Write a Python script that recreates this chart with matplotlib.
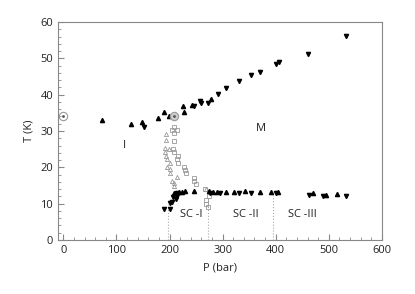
import matplotlib.pyplot as plt
from matplotlib.ticker import MultipleLocator

plt.rcParams['font.family'] = ['Open Sans', 'DejaVu Sans']

# upper (M) boundary, filled triangles
up_hi_P = [72, 128, 148, 178, 189, 199, 226, 227, 242, 279]
up_hi_T = [32.9, 31.9, 32.6, 33.7, 35.2, 34.2, 36.8, 35.3, 37.2, 38.9]
dn_hi_P = [151, 247, 258, 260, 273, 292, 307, 331, 353, 371, 401, 407, 461, 533]
dn_hi_T = [31.2, 36.9, 38.2, 37.6, 37.8, 40.1, 41.7, 43.8, 45.3, 46.3, 48.4, 49.0, 51.2, 56.1]

# superconducting boundary, filled triangles
up_lo_P = [209, 213, 217, 223, 229, 247, 275, 282, 290, 307, 321, 342, 370, 392, 405, 471, 494, 516]
up_lo_T = [13.0, 13.0, 13.2, 13.2, 13.5, 13.5, 13.4, 13.2, 13.3, 13.3, 13.3, 13.4, 13.1, 13.2, 13.2, 12.8, 12.4, 12.6]
dn_lo_P = [189, 201, 201, 205, 206, 212, 214, 214, 277, 295, 331, 353, 400, 462, 490, 533]
dn_lo_T = [8.6, 8.6, 10.2, 10.5, 11.9, 11.2, 12.1, 13.0, 12.9, 13.0, 12.9, 12.9, 12.8, 12.3, 12.2, 12.1]

# open markers
tri_P = [194, 194, 191, 191, 199, 194, 196, 200, 196, 201, 201, 214, 205, 208, 209, 268]
tri_T = [29.3, 27.5, 25.3, 24.3, 24.9, 23.2, 22.2, 21.3, 20.2, 19.4, 18.5, 17.4, 16.3, 15.6, 14.8, 14.0]
sq_P = [209, 205, 214, 209, 209, 207, 208, 216, 215, 216, 227, 229, 231, 246, 247, 249, 267, 275, 268, 268, 273]
sq_T = [31.2, 30.2, 30.2, 29.5, 27.2, 25.1, 24.3, 23.1, 22.2, 21.3, 20.2, 19.2, 18.3, 17.1, 16.2, 15.3, 13.9, 12.1, 10.9, 10.0, 9.0]

circ_P = [0, 209]
circ_T = [34.1, 34.1]
circ_fill = ['none', '#cccccc']

# phase boundaries (dotted) and labels
vline_P = [197, 273, 395]
vline_top = [10, 12, 12.5]
labels = ["I", "M", "SC -I", "SC -II", "SC -III"]
label_P = [115, 372, 240, 343, 450]
label_T = [26, 30.7, 7, 7, 7]

grey = '#999999'

fig = plt.figure(figsize=(4.15, 2.94), dpi=100)
ax = fig.add_axes([0.14, 0.184, 0.78, 0.741])

for p, top in zip(vline_P, vline_top):
    ax.plot([p, p], [0, top], ls=':', color='#aaaaaa', lw=0.8)

ax.plot(tri_P, tri_T, '^', ms=3, mfc='none', mec=grey, mew=0.6, ls='none')
ax.plot(sq_P, sq_T, 's', ms=3.2, mfc='none', mec=grey, mew=0.6, ls='none')
ax.plot(up_hi_P + up_lo_P, up_hi_T + up_lo_T, '^', ms=3, color='black', ls='none')
ax.plot(dn_hi_P + dn_lo_P, dn_hi_T + dn_lo_T, 'v', ms=3, color='black', ls='none')
for p, t, f in zip(circ_P, circ_T, circ_fill):
    ax.plot(p, t, 'o', ms=6, mfc=f, mec=grey, mew=0.8, ls='none')
ax.plot(circ_P, circ_T, '.', ms=2, color='#555555', ls='none')

for s, p, t in zip(labels, label_P, label_T):
    ax.text(p, t, s, ha='center', va='center', fontsize=8, color='#222222')

ax.set_xlim(-10, 600)
ax.set_ylim(0, 60)
ax.xaxis.set_major_locator(MultipleLocator(100))
ax.xaxis.set_minor_locator(MultipleLocator(20))
ax.yaxis.set_major_locator(MultipleLocator(10))
ax.yaxis.set_minor_locator(MultipleLocator(2))
ax.tick_params(which='both', direction='in', color='#888888', labelsize=8, labelcolor='#222222')
ax.tick_params(which='major', length=4)
ax.tick_params(which='minor', length=2)
for sp in ax.spines.values():
    sp.set_color('#888888')
ax.set_xlabel('P (bar)', fontsize=8, color='#222222', labelpad=5)
ax.set_ylabel('T (K)', fontsize=8, color='#222222')

fig.savefig('out.png', dpi=100)
